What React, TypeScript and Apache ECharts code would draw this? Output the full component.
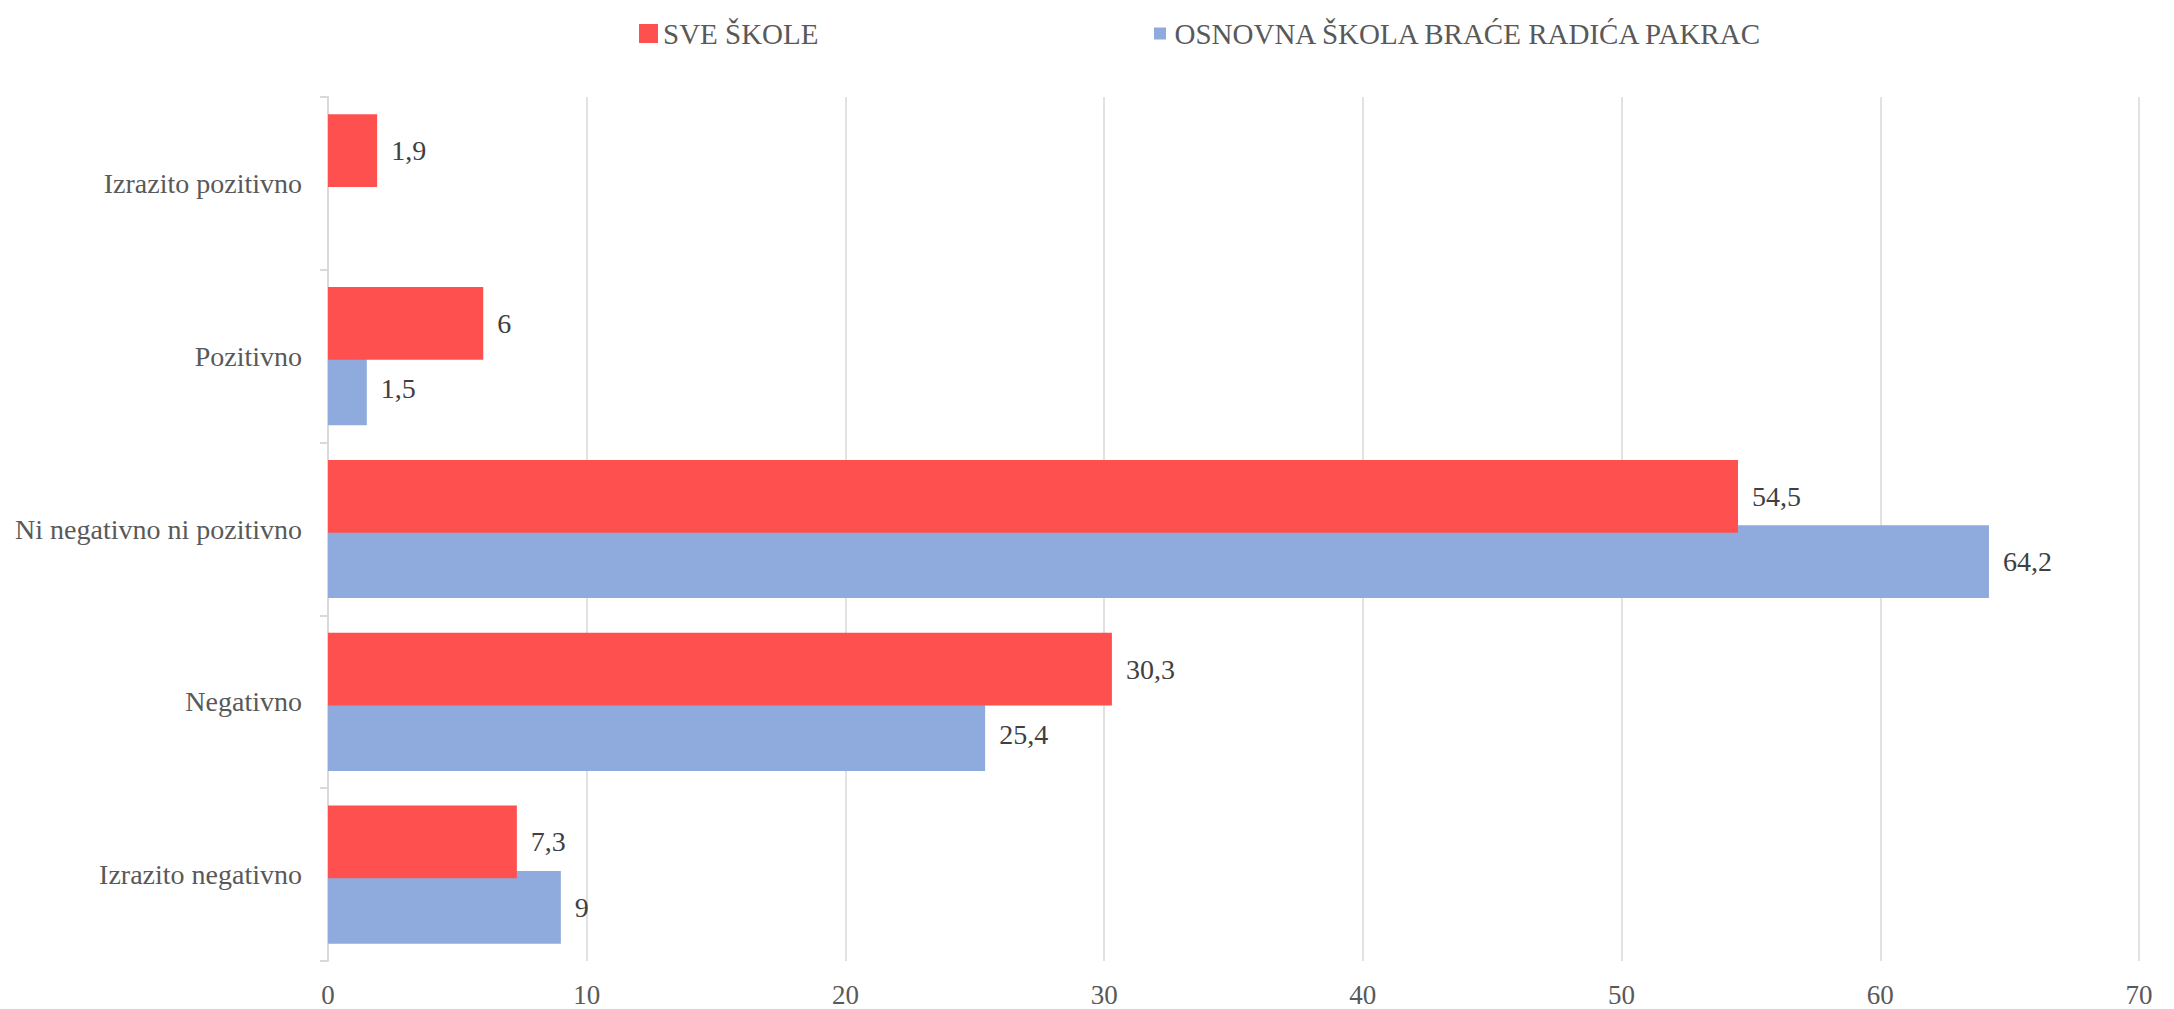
import React, { useEffect, useRef } from "react";
import * as echarts from "echarts";

const categories = [
  "Izrazito pozitivno",
  "Pozitivno",
  "Ni negativno ni pozitivno",
  "Negativno",
  "Izrazito negativno",
];
const seriesNames = ["SVE ŠKOLE", "OSNOVNA ŠKOLA BRAĆE RADIĆA PAKRAC"];
const sveSkole = [1.9, 6, 54.5, 30.3, 7.3];
const osPakrac = [null, 1.5, 64.2, 25.4, 9];
const xTicks = [0, 10, 20, 30, 40, 50, 60, 70];

const RED = "#FF5050";
const BLUE = "#8FAADC";
const FONT = "Liberation Serif";

export default function App() {
  const ref = useRef<HTMLDivElement>(null);
  useEffect(() => {
    if (!ref.current) return;
    const chart = echarts.init(ref.current, null, { renderer: "svg" });
    const fmt = (p: any) =>
      p.value == null ? "" : String(p.value).replace(".", ",");
    const labelStyle = {
      show: true,
      position: "right",
      distance: 14,
      fontFamily: FONT,
      fontSize: 28,
      color: "#404040",
      formatter: fmt,
    };
    chart.setOption({
      animation: false,
      backgroundColor: "#ffffff",
      textStyle: { fontFamily: FONT },
      legend: {
        left: 634,
        top: 14,
        itemGap: 332,
        itemWidth: 19,
        itemHeight: 19,
        textStyle: { fontFamily: FONT, fontSize: 29, color: "#595959" },
        data: [
          { name: seriesNames[0], icon: "rect" },
          {
            name: seriesNames[1],
            icon: "path://M0,0 M19,19 M3.5,3.5 L15.5,3.5 L15.5,15.5 L3.5,15.5 Z",
          },
        ],
      },
      grid: { left: 328, right: 35, top: 97, bottom: 48 },
      xAxis: {
        type: "value",
        min: xTicks[0],
        max: xTicks[xTicks.length - 1],
        interval: 10,
        axisLine: { show: false },
        axisTick: { show: false },
        axisLabel: {
          fontFamily: FONT,
          fontSize: 27,
          color: "#595959",
          margin: 20,
        },
        splitLine: { show: true, lineStyle: { color: "#d9d9d9", width: 1.5 } },
      },
      yAxis: {
        type: "category",
        inverse: true,
        data: categories,
        axisLine: { show: true, lineStyle: { color: "#d9d9d9", width: 2 } },
        axisTick: { show: true, length: 8, lineStyle: { color: "#d9d9d9", width: 2 } },
        axisLabel: {
          fontFamily: FONT,
          fontSize: 28,
          color: "#595959",
          margin: 26,
        },
      },
      series: [
        {
          name: seriesNames[0],
          type: "bar",
          data: sveSkole,
          z: 10,
          barCategoryGap: "20%",
          barGap: "-10%",
          itemStyle: { color: RED },
          label: labelStyle,
        },
        {
          name: seriesNames[1],
          type: "bar",
          data: osPakrac,
          z: 1,
          barCategoryGap: "20%",
          barGap: "-10%",
          itemStyle: { color: BLUE },
          label: labelStyle,
        },
      ],
    });
    return () => chart.dispose();
  }, []);
  return (
    <div
      ref={ref}
      style={{ position: "fixed", left: 0, top: 0, width: 2174, height: 1009 }}
    />
  );
}
